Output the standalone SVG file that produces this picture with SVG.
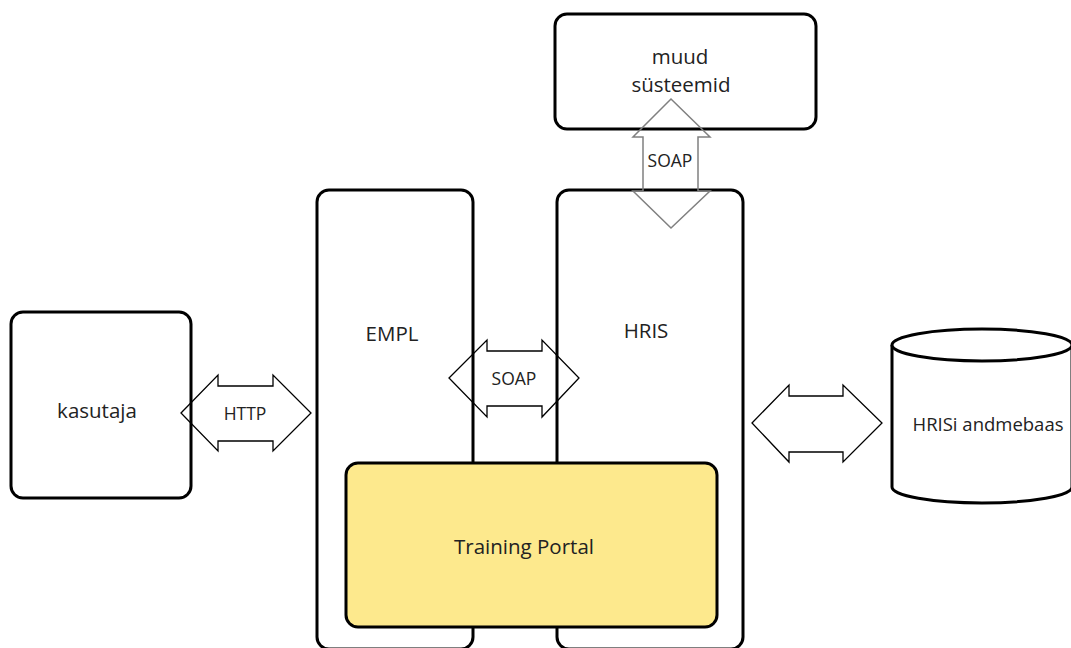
<svg xmlns="http://www.w3.org/2000/svg" width="1071" height="648" viewBox="0 0 1071 648">
<style>
.box{fill:#fff;stroke:#000;stroke-width:3}
.tp{fill:#fde98d;stroke:#000;stroke-width:3}
.arr{fill:none;stroke:#000;stroke-width:1.3;stroke-linejoin:miter}
.arrg{fill:none;stroke:#808080;stroke-width:1.5}
.t{font-family:"Open Sans","Liberation Sans",sans-serif;font-size:20.5px;fill:#222;text-anchor:middle}
.s{font-family:"Open Sans","Liberation Sans",sans-serif;font-size:17.5px;fill:#222;text-anchor:middle}
</style>
<rect width="1071" height="648" fill="#fff"/>
<g id="kasutaja">
<rect class="box" x="11" y="312" width="180" height="186" rx="12"/>
<text class="t" x="97" y="418">kasutaja</text>
</g>
<g id="EMPL">
<rect class="box" x="317" y="190" width="156" height="459" rx="12"/>
<text class="t" x="392" y="341">EMPL</text>
</g>
<g id="HRIS">
<rect class="box" x="557" y="190" width="186" height="459" rx="12"/>
<text class="t" x="646" y="338">HRIS</text>
</g>
<g id="muud">
<rect class="box" x="555" y="14" width="261" height="115" rx="12"/>
<text class="t" x="680" y="64">muud</text>
<text class="t" x="681" y="92">süsteemid</text>
</g>
<g id="TrainingPortal">
<rect class="tp" x="346" y="463" width="371" height="164" rx="12"/>
<text class="t" x="524" y="554">Training Portal</text>
</g>
<g id="db">
<path class="box" d="M892,345 L892,487 A90,16 0 0 0 1072,487 L1072,345"/>
<ellipse class="box" cx="982" cy="345" rx="90" ry="16"/>
<text class="t" x="988" y="431" style="font-size:18.5px">HRISi andmebaas</text>
</g>
<g id="connectors">
<polygon class="arr" points="181,413 218,375 218,386 273,386 273,375 311,413 273,451 273,441 218,441 218,451"/>
<text class="s" x="245" y="420">HTTP</text>
<polygon class="arr" points="449,378 487,340 487,351 542,351 542,340 579,378 542,417 542,406 487,406 487,417"/>
<text class="s" x="514" y="385">SOAP</text>
<polygon class="arr" points="752,423 789,385 789,396 843,396 843,385 882,423 843,462 843,452 789,452 789,462"/>
<polygon class="arrg" points="671,99 710,137 698,137 698,191 710,191 671,228 633,191 643,191 643,137 633,137"/>
<text class="s" x="670" y="167">SOAP</text>
</g>
</svg>
